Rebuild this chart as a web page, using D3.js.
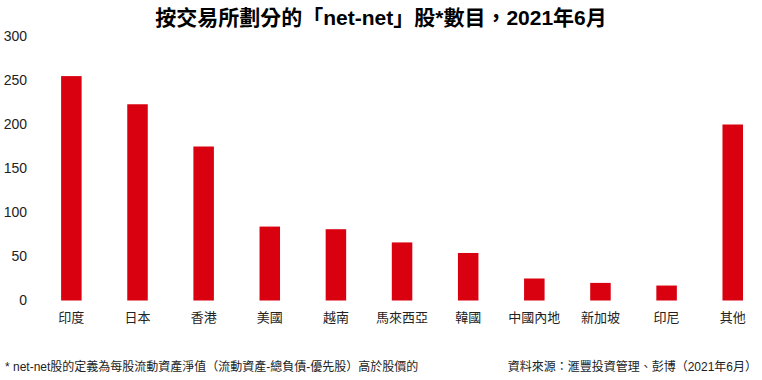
<!DOCTYPE html>
<html lang="zh-Hant-TW"><head><meta charset="utf-8">
<script src="https://cdn.jsdelivr.net/npm/d3@7"></script>
<style>body{margin:0;background:#fff}svg{display:block}</style>
</head><body>
<svg id="c" width="762" height="380"></svg>
<script>
const categories = ["印度","日本","香港","美國","越南","馬來西亞","韓國","中國內地","新加坡","印尼","其他"];
const values = [255,223,175,84,81,66,54,25,20,17,200];
const yTicks = [0,50,100,150,200,250,300];
const title = "按交易所劃分的「net-net」股*數目，2021年6月";
const noteLeft = "* net-net股的定義為每股流動資產淨值（流動資產-總負債-優先股）高於股價的";
const noteRight = "資料來源：滙豐投資管理、彭博（2021年6月）";

const font = "'Liberation Sans', Arial, 'Noto Sans CJK TC', sans-serif";
const svg = d3.select("#c");
const x = d3.scaleBand().domain(categories).range([38.3, 765.8]).paddingInner(0.69).paddingOuter(0.345);
const y = d3.scaleLinear().domain([0,300]).range([300.5, 36.5]);

svg.append("text").attr("x",381).attr("y",25).attr("text-anchor","middle")
  .attr("font-family",font).attr("font-weight","bold").attr("font-size",21).attr("fill","#000").text(title);

const ya = d3.axisLeft(y).tickValues(yTicks).tickSize(0).tickPadding(0);
const gy = svg.append("g").attr("transform","translate(27,0)").call(ya);
gy.select(".domain").remove();
gy.selectAll("text").attr("font-family",font).attr("font-size",14).attr("fill","#222");

svg.append("g").selectAll("rect").data(values).join("rect")
  .attr("x",(d,i)=>x(categories[i])).attr("width",x.bandwidth())
  .attr("y",d=>y(d)).attr("height",d=>y(0)-y(d))
  .attr("fill","#D9000F");

const xa = d3.axisBottom(x).tickSize(0).tickPadding(0);
const gx = svg.append("g").attr("transform","translate(0,313)").call(xa);
gx.select(".domain").remove();
gx.selectAll("text").attr("font-family",font).attr("font-size",13).attr("fill","#222");

svg.append("text").attr("x",5).attr("y",371).attr("font-family",font).attr("font-size",12).attr("fill","#222").text(noteLeft);
svg.append("text").attr("x",757).attr("y",371).attr("text-anchor","end").attr("font-family",font).attr("font-size",12).attr("fill","#222").text(noteRight);
</script>
</body></html>
